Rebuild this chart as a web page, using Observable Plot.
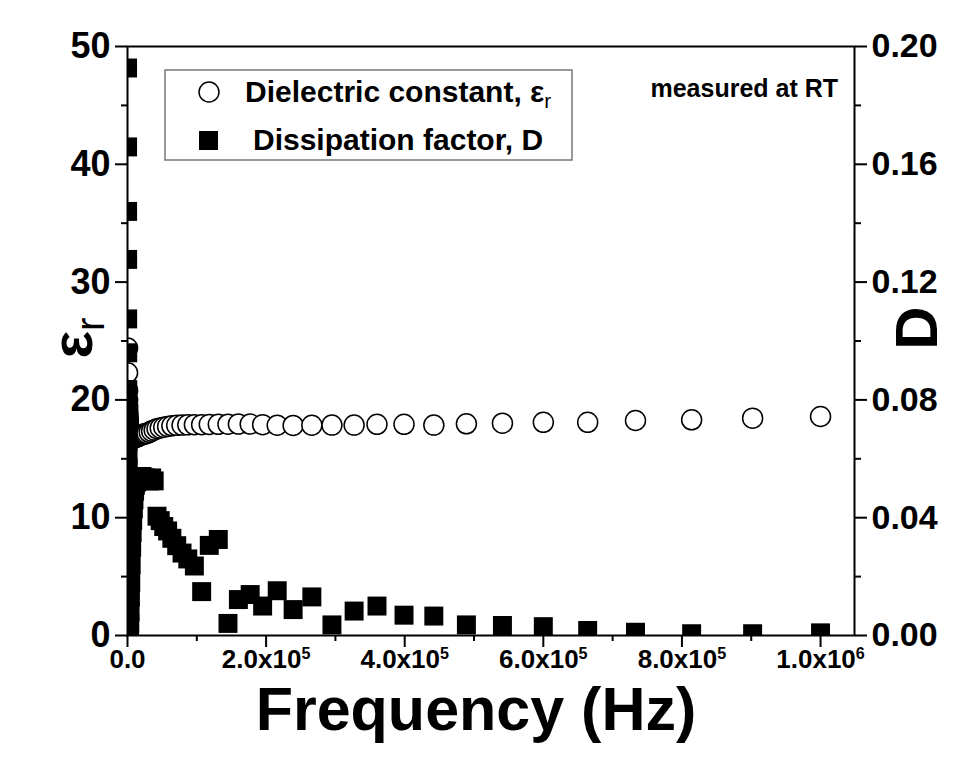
<!DOCTYPE html>
<html><head><meta charset="utf-8">
<script src="https://cdn.jsdelivr.net/npm/d3@7"></script>
<script src="https://cdn.jsdelivr.net/npm/@observablehq/plot@0.6"></script>
<style>
body{margin:0;background:#fff;}
svg text{font-family:"Liberation Sans",Arial,sans-serif;font-weight:bold;}
</style></head><body><div id="chart"></div>
<script>
// Frequency (Hz)
const freq = [100,120,150,200,250,300,400,500,600,700,800,900,
  1000,1200,1400,1600,1800,2000,2300,2600,2900,
  3300,3700,4200,4700,5300,6000,6700,
  7500,8400,9300,10200,11300,12500,13900,15400,17000,18800,20900,23100,25600,28300,31400,34800,38500,
  42600,47200,52300,57900,64000,71000,78700,87000,96500,
  107000,118000,131000,145000,160000,177000,195000,216000,239000,266000,295000,327000,360000,399000,442000,489000,541000,600000,664000,733000,814000,902000,1000000];
// Dielectric constant
const epsR = [24.4,22.3,20.8,20.0,19.5,19.2,18.9,18.7,18.5,18.4,18.3,18.2,
  18.0,17.8,17.6,17.4,17.25,17.1,17.0,16.9,16.85,
  16.8,16.8,16.75,16.75,16.75,16.75,16.75,
  16.75,16.75,16.8,16.8,16.8,16.85,16.85,16.9,16.95,17.0,17.05,17.1,17.12,17.15,17.25,17.35,17.45,
  17.55,17.62,17.68,17.74,17.8,17.84,17.86,17.88,17.9,
  17.9,17.92,17.93,17.94,17.95,17.95,17.9,17.85,17.83,17.85,17.86,17.86,17.93,17.93,17.86,17.97,18.02,18.1,18.1,18.25,18.31,18.45,18.59];
// Dissipation factor
const dissip = [0.1927,0.1659,0.1440,0.1277,0.1075,0.0960,0.0835,0.0780,0.0720,0.0660,0.0610,0.0570,
  0.0500,0.0430,0.0360,0.0290,0.0220,0.0160,0.0100,0.0050,0.0020,
  0.0040,0.0080,0.0130,0.0180,0.0240,0.0300,0.0350,
  0.0390,0.0430,0.0460,0.0490,0.0510,0.0520,0.0525,0.0530,0.0535,0.0540,0.0540,0.0535,0.0535,0.0530,0.0525,0.0535,0.0525,
  0.0405,0.0390,0.0370,0.0355,0.0330,0.0305,0.0280,0.0260,0.0236,
  0.0149,0.0306,0.0326,0.0041,0.0122,0.0139,0.0100,0.0152,0.0088,0.0131,0.0036,0.0083,0.0100,0.0069,0.0066,0.0036,0.0034,0.0030,0.0017,0.0011,0.0006,0.0006,0.0009];

const leftTicks = [0,10,20,30,40,50];
const leftMinor = [5,15,25,35,45];
const rightTicks = [0,0.04,0.08,0.12,0.16,0.20];
const rightMinor = [0.02,0.06,0.10,0.14,0.18];
const xTicks = [0,200000,400000,600000,800000,1000000];
const xTickLabels = ["0.0","2.0x10^5","4.0x10^5","6.0x10^5","8.0x10^5","1.0x10^6"];
const xMinor = [100000,300000,500000,700000,900000];
const legendLabels = ["Dielectric constant, ε_r","Dissipation factor, D"];
const note = "measured at RT";
const xTitle = "Frequency (Hz)";

const D_TO_LEFT = 50 / 0.2; // right axis 0..0.2 maps onto left 0..50

const rows = freq.map((f, i) => ({f, eps: epsR[i], D: dissip[i]}));

const svg = Plot.plot({
  width: 958, height: 763,
  marginLeft: 127, marginRight: 104, marginTop: 46, marginBottom: 128,
  x: {domain: [0, 1.049e6]},
  y: {domain: [0, 50]},
  style: {background: "white", fontFamily: "'Liberation Sans', Arial, sans-serif", fontWeight: "bold", color: "black"},
  marks: [
    Plot.dot(rows, {x: "f", y: "eps", r: 10, fill: "white", stroke: "black", strokeWidth: 1.5, clip: true}),
    Plot.dot(rows, {x: "f", y: d => d.D * D_TO_LEFT, symbol: "square", r: 10.7, fill: "black", clip: true}),
    Plot.frame({stroke: "black", strokeWidth: 2}),
    Plot.axisY(leftTicks, {anchor: "left", tickSize: 12, tickPadding: 5, strokeWidth: 2, fontSize: 36, label: null}),
    Plot.axisY(leftMinor, {anchor: "left", tickSize: 6, strokeWidth: 2, tickFormat: () => "", label: null}),
    Plot.axisY(rightTicks.map(v => v * D_TO_LEFT), {anchor: "right", tickSize: 12, tickPadding: 5, strokeWidth: 2, fontSize: 34, tickFormat: (v, i) => rightTicks[i].toFixed(2), label: null}),
    Plot.axisY(rightMinor.map(v => v * D_TO_LEFT), {anchor: "right", tickSize: 6, strokeWidth: 2, tickFormat: () => "", label: null}),
    Plot.axisX(xTicks, {anchor: "bottom", tickSize: 12, tickPadding: 2, strokeWidth: 2, fontSize: 26, tickFormat: (v, i) => xTickLabels[i], label: null}),
    Plot.axisX(xMinor, {anchor: "bottom", tickSize: 6, strokeWidth: 2, tickFormat: () => "", label: null})
  ]
});

const s = d3.select(svg);
// superscripts on x tick labels
s.selectAll('g[aria-label="x-axis tick label"] text').each(function() {
  const t = this.textContent;
  if (!t.includes("^")) return;
  const [base, exp] = t.split("^");
  const el = d3.select(this);
  el.text(null);
  el.append("tspan").text(base);
  el.append("tspan").attr("dy", "-0.55em").attr("font-size", "0.62em").text(exp);
});

function richText(sel, str) {
  const parts = str.split("_");
  sel.append("tspan").text(parts[0]);
  if (parts[1]) sel.append("tspan").attr("dy", "0.3em").attr("font-size", "0.7em").attr("font-weight", "normal").text(parts[1]);
}

// axis titles
const yl = s.append("text").attr("transform", "translate(92,338) rotate(-90)")
  .attr("text-anchor", "middle").attr("font-size", 58).attr("fill", "black");
richText(yl, "ε_r");
s.append("text").attr("transform", "translate(937,328) rotate(-90)")
  .attr("text-anchor", "middle").attr("font-size", 60).attr("fill", "black").text("D");
s.append("text").attr("x", 476).attr("y", 730).attr("text-anchor", "middle")
  .attr("font-size", 61).attr("fill", "black").text(xTitle);

// note
s.append("text").attr("x", 838).attr("y", 97).attr("text-anchor", "end")
  .attr("font-size", 25).attr("fill", "black").text(note);

// legend
const lg = s.append("g").attr("text-anchor", "start");
lg.append("rect").attr("x", 165).attr("y", 70).attr("width", 407).attr("height", 90)
  .attr("fill", "white").attr("stroke", "#777").attr("stroke-width", 1.5);
lg.append("circle").attr("cx", 209).attr("cy", 92).attr("r", 10).attr("fill", "white").attr("stroke", "black").attr("stroke-width", 1.5);
lg.append("rect").attr("x", 199).attr("y", 131).attr("width", 19).attr("height", 19).attr("fill", "black");
const l1 = lg.append("text").attr("x", 245).attr("y", 102).attr("text-anchor", "start").attr("font-size", 30).attr("fill", "black");
richText(l1, legendLabels[0]);
lg.append("text").attr("x", 253).attr("y", 150).attr("text-anchor", "start").attr("font-size", 30).attr("fill", "black").text(legendLabels[1]);

document.getElementById("chart").appendChild(svg);
</script></body></html>
